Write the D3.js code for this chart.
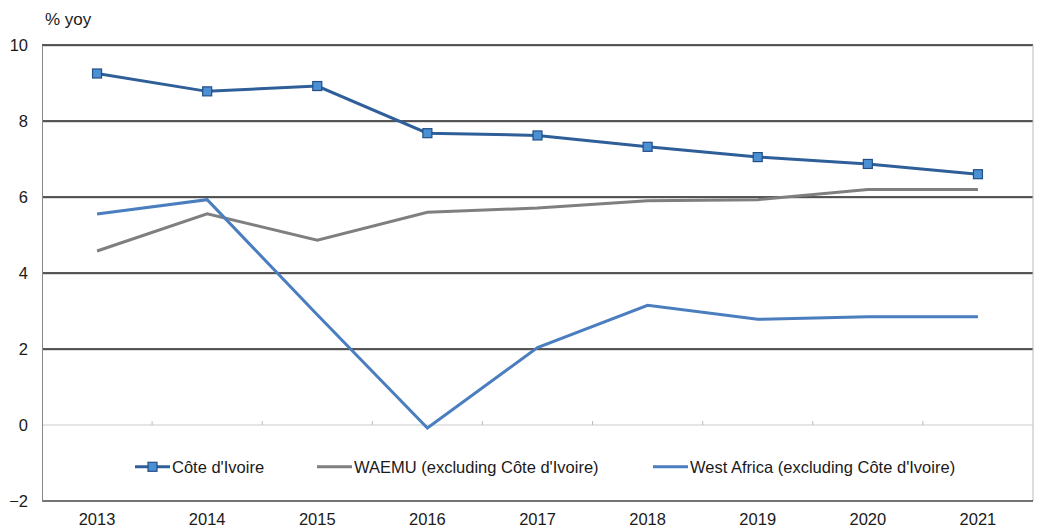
<!DOCTYPE html>
<html>
<head>
<meta charset="utf-8">
<script src="https://cdn.jsdelivr.net/npm/d3@7"></script>
<style>
  body { margin: 0; background: #fff; }
  text { font-family: "Liberation Sans", Arial, sans-serif; }
</style>
</head>
<body>
<div id="chart"></div>
<script>
// Chart data
var years = ["2013", "2014", "2015", "2016", "2017", "2018", "2019", "2020", "2021"];
var coteIvoire = [9.25, 8.78, 8.92, 7.68, 7.62, 7.32, 7.05, 6.87, 6.6];
var waemu = [4.58, 5.56, 4.86, 5.6, 5.71, 5.9, 5.93, 6.2, 6.2];
var westAfrica = [5.55, 5.93, 2.9, -0.08, 2.04, 3.15, 2.78, 2.85, 2.85];
var yTicks = [-2, 0, 2, 4, 6, 8, 10];
var seriesNames = ["Côte d'Ivoire", "WAEMU (excluding Côte d'Ivoire)", "West Africa (excluding Côte d'Ivoire)"];

var margin = { top: 45, right: 14, bottom: 28, left: 42 };
var width = 1047 - margin.left - margin.right;
var height = 529 - margin.top - margin.bottom;
var fontSize = "16.5px";

var svg = d3.select("#chart")
  .append("svg")
  .attr("width", 1047)
  .attr("height", 529)
  .append("g")
  .attr("transform", "translate(" + margin.left + "," + margin.top + ")");

var x = d3.scaleBand()
  .domain(years)
  .range([0, width]);

var y = d3.scaleLinear()
  .domain([-2, 10])
  .range([height, 0]);

var xc = function(d) { return x(d) + x.bandwidth() / 2; };

// Gridlines (dark with light shadow)
[2, 4, 6, 8, 10].forEach(function(v) {
  svg.append("line")
    .attr("x1", 0).attr("x2", width)
    .attr("y1", y(v) + 1).attr("y2", y(v) + 1)
    .attr("stroke", "#bbb").attr("stroke-width", 1);
  svg.append("line")
    .attr("x1", 0).attr("x2", width)
    .attr("y1", y(v)).attr("y2", y(v))
    .attr("stroke", "#222").attr("stroke-width", 1.3);
});

// Right border
svg.append("line")
  .attr("x1", width).attr("x2", width)
  .attr("y1", 0).attr("y2", height)
  .attr("stroke", "#bbb");

// Bottom border
svg.append("line")
  .attr("x1", 0).attr("x2", width)
  .attr("y1", height).attr("y2", height)
  .attr("stroke", "#444").attr("stroke-width", 1.3);

// Zero line with category ticks
svg.append("line")
  .attr("x1", 0).attr("x2", width)
  .attr("y1", y(0)).attr("y2", y(0))
  .attr("stroke", "#ccc").attr("stroke-width", 1.2);

svg.selectAll(".zt")
  .data(years.slice(1))
  .enter().append("line")
  .attr("x1", function(d) { return x(d); })
  .attr("x2", function(d) { return x(d); })
  .attr("y1", y(0)).attr("y2", y(0) - 4)
  .attr("stroke", "#bbb");

// Left axis
var yAxis = svg.append("g")
  .call(d3.axisLeft(y).tickValues(yTicks).tickSize(0).tickPadding(14));
yAxis.select(".domain").attr("stroke", "#888");
yAxis.selectAll("text")
  .style("font-size", fontSize)
  .attr("fill", "#1a1a1a");

// Bottom axis labels
var xAxis = svg.append("g")
  .attr("transform", "translate(0," + height + ")")
  .call(d3.axisBottom(x).tickSize(0).tickPadding(12));
xAxis.select(".domain").remove();
xAxis.selectAll("text")
  .style("font-size", fontSize)
  .attr("fill", "#1a1a1a");

// Unit label
svg.append("text")
  .attr("x", 3)
  .attr("y", -20)
  .style("font-size", "17px")
  .attr("fill", "#1a1a1a")
  .text("% yoy");

var line = d3.line()
  .x(function(d, i) { return xc(years[i]); })
  .y(function(d) { return y(d); });

svg.append("path")
  .datum(waemu)
  .attr("fill", "none")
  .attr("stroke", "#7f7f7f")
  .attr("stroke-width", 3)
  .attr("d", line);

svg.append("path")
  .datum(westAfrica)
  .attr("fill", "none")
  .attr("stroke", "#4a7ebf")
  .attr("stroke-width", 3)
  .attr("d", line);

svg.append("path")
  .datum(coteIvoire)
  .attr("fill", "none")
  .attr("stroke", "#2f5f99")
  .attr("stroke-width", 3)
  .attr("d", line);

svg.selectAll(".marker")
  .data(coteIvoire)
  .enter().append("rect")
  .attr("class", "marker")
  .attr("x", function(d, i) { return xc(years[i]) - 4.5; })
  .attr("y", function(d) { return y(d) - 4.5; })
  .attr("width", 9)
  .attr("height", 9)
  .attr("fill", "#4a90d2")
  .attr("stroke", "#244f85")
  .attr("stroke-width", 1.2);

// Legend
var legend = svg.append("g").attr("transform", "translate(0," + y(-1.1) + ")");
var legendItems = [
  { name: seriesNames[0], x: 93, color: "#2f5f99", marker: true },
  { name: seriesNames[1], x: 275, color: "#7f7f7f", marker: false },
  { name: seriesNames[2], x: 611, color: "#4a7ebf", marker: false }
];
legendItems.forEach(function(it) {
  legend.append("line")
    .attr("x1", it.x).attr("x2", it.x + 35)
    .attr("y1", 0).attr("y2", 0)
    .attr("stroke", it.color).attr("stroke-width", 3);
  if (it.marker) {
    legend.append("rect")
      .attr("x", it.x + 17.5 - 4.5).attr("y", -4.5)
      .attr("width", 9).attr("height", 9)
      .attr("fill", "#4a90d2").attr("stroke", "#244f85").attr("stroke-width", 1.2);
  }
  legend.append("text")
    .attr("x", it.x + 37)
    .attr("y", 0)
    .attr("dy", "0.35em")
    .style("font-size", fontSize)
    .attr("fill", "#1a1a1a")
    .text(it.name);
});
</script>
</body>
</html>
